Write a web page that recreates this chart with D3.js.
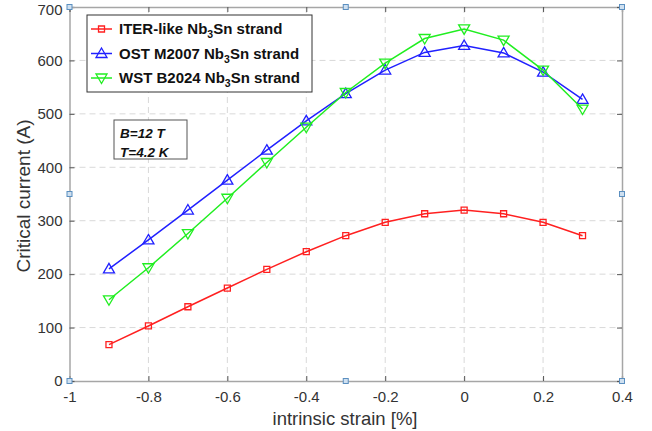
<!DOCTYPE html>
<html>
<head>
<meta charset="utf-8">
<script src="https://cdn.jsdelivr.net/npm/d3@7"></script>
<style>
  body { margin: 0; background: #fff; }
  text { font-family: "Liberation Sans", Arial, sans-serif; }
</style>
</head>
<body>
<svg id="chart" width="652" height="431"></svg>
<script>
// strain values (%) shared by all three strands
var strain = [-0.9, -0.8, -0.7, -0.6, -0.5, -0.4, -0.3, -0.2, -0.1, 0, 0.1, 0.2, 0.3];
var iterLike = [68, 103, 139, 174, 209, 242, 272, 297, 313, 320, 313, 297, 272];
var ostM2007 = [210, 264, 320, 376, 432, 487, 538, 582, 615, 628, 614, 578, 527];
var wstB2024 = [152, 212, 276, 342, 409, 475, 540, 595, 641, 659, 638, 582, 509];
var xTicks = [-1, -0.8, -0.6, -0.4, -0.2, 0, 0.2, 0.4];
var yTicks = [0, 100, 200, 300, 400, 500, 600, 700];
var seriesNames = ["ITER-like", "OST M2007", "WST B2024"];

var margin = {top: 7, right: 30, bottom: 50, left: 69.5};
var width = 622 - margin.left;
var height = 381 - margin.top;

var svg = d3.select("#chart");
var g = svg.append("g").attr("transform", "translate(" + margin.left + "," + margin.top + ")");

var x = d3.scaleLinear().domain([-1, 0.4]).range([0, width]);
var y = d3.scaleLinear().domain([0, 700]).range([height, 0]);

// grid
g.append("g").selectAll("line").data(xTicks.slice(1, -1)).enter().append("line")
    .attr("x1", d => x(d)).attr("x2", d => x(d))
    .attr("y1", 0).attr("y2", height)
    .attr("stroke", "#d9d9d9").attr("stroke-dasharray", "6,4");
g.append("g").selectAll("line").data(yTicks.slice(1, -1)).enter().append("line")
    .attr("y1", d => y(d)).attr("y2", d => y(d))
    .attr("x1", 0).attr("x2", width)
    .attr("stroke", "#d9d9d9").attr("stroke-dasharray", "6,4");

// axes (plain hyphen for negatives, like the original)
var fmt = d => String(d);
var xAxis = g.append("g").attr("transform", "translate(0," + height + ")")
    .call(d3.axisBottom(x).tickValues(xTicks).tickSize(-5).tickPadding(10).tickFormat(fmt));
var yAxis = g.append("g")
    .call(d3.axisLeft(y).tickValues(yTicks).tickSize(-5).tickPadding(7).tickFormat(fmt));
var xTop = g.append("g")
    .call(d3.axisTop(x).tickValues(xTicks).tickSize(-5).tickFormat(""));
var yRight = g.append("g").attr("transform", "translate(" + width + ",0)")
    .call(d3.axisRight(y).tickValues(yTicks).tickSize(-5).tickFormat(""));

[xAxis, yAxis, xTop, yRight].forEach(function(a){
    a.select(".domain").attr("stroke", "#a6a6a6").attr("stroke-width", 1.5);
    a.selectAll(".tick line").attr("stroke", "#555");
    a.selectAll(".tick text").attr("fill", "#333").style("font-size", "15px");
});
// keep the top label inside the picture
yAxis.selectAll(".tick text").filter(d => d === 700).attr("dy", "0.5em");

// lines
var line = d3.line().x(d => x(d[0])).y(d => y(d[1]));
var series = [
    {name: seriesNames[0], values: iterLike, color: "#ff2020", marker: "square"},
    {name: seriesNames[1], values: ostM2007, color: "#2020ff", marker: "up"},
    {name: seriesNames[2], values: wstB2024, color: "#20ee20", marker: "down"}
];

function markerPath(type) {
    if (type === "square") return "M-3,-3H3V3H-3Z";
    if (type === "up") return "M0,-5.5L5.5,4L-5.5,4Z";
    return "M0,5.5L5.5,-4L-5.5,-4Z";
}

series.forEach(function(s){
    var pts = strain.map((v, i) => [v, s.values[i]]);
    g.append("path").datum(pts).attr("d", line)
        .attr("fill", "none").attr("stroke", s.color).attr("stroke-width", 1.5);
    g.selectAll(null).data(pts).enter().append("path")
        .attr("transform", d => "translate(" + x(d[0]) + "," + y(d[1]) + ")")
        .attr("d", markerPath(s.marker))
        .attr("fill", "none").attr("stroke", s.color).attr("stroke-width", 1.3);
});

// selection handles
var handles = [[-1, 0], [-0.3, 0], [0.4, 0], [-1, 350], [0.4, 350], [-1, 700], [-0.3, 700], [0.4, 700]];
g.selectAll(null).data(handles).enter().append("rect")
    .attr("x", d => x(d[0]) - 2.5).attr("y", d => y(d[1]) - 2.5)
    .attr("width", 5).attr("height", 5)
    .attr("fill", "#cfe0f0").attr("stroke", "#5b8fc0").attr("stroke-width", 1);

// legend
var leg = svg.append("g");
leg.append("rect").attr("x", 87).attr("y", 15).attr("width", 225).attr("height", 77)
    .attr("fill", "#fff").attr("stroke", "#333").attr("stroke-width", 1);
series.forEach(function(s, i){
    var cy = 29 + i * 24.5;
    leg.append("line").attr("x1", 91).attr("x2", 112).attr("y1", cy).attr("y2", cy)
        .attr("stroke", s.color).attr("stroke-width", 1.5);
    leg.append("path").attr("transform", "translate(101.5," + cy + ")")
        .attr("d", markerPath(s.marker)).attr("fill", "none")
        .attr("stroke", s.color).attr("stroke-width", 1.3);
    var t = leg.append("text").attr("x", 119).attr("y", cy + 5)
        .style("font-size", "15px").style("font-weight", "bold").attr("fill", "#111");
    t.append("tspan").text(s.name + " Nb");
    t.append("tspan").attr("dy", 4).style("font-size", "10.5px").text("3");
    t.append("tspan").attr("dy", -4).text("Sn strand");
});

// conditions box
svg.append("rect").attr("x", 114).attr("y", 120).attr("width", 73).attr("height", 39)
    .attr("fill", "#fff").attr("stroke", "#555").attr("stroke-width", 1);
["B=12 T", "T=4.2 K"].forEach(function(txt, i){
    svg.append("text").attr("x", 120).attr("y", 138 + i * 18.5)
        .style("font-size", "13.5px").style("font-weight", "bold").style("font-style", "italic")
        .attr("fill", "#111").text(txt);
});

// axis titles
svg.append("text").attr("x", 345).attr("y", 425).attr("text-anchor", "middle")
    .style("font-size", "18.5px").attr("fill", "#333").text("intrinsic strain [%]");
svg.append("text").attr("transform", "translate(30,196) rotate(-90)").attr("text-anchor", "middle")
    .style("font-size", "19px").attr("fill", "#333").text("Critical current (A)");
</script>
</body>
</html>
